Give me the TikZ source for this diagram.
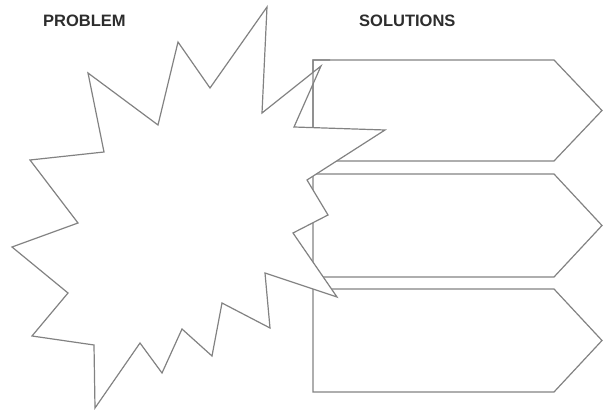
\documentclass[tikz,border=0pt]{standalone}
\usepackage{fontspec}
\setmainfont{Liberation Sans}
\definecolor{linegray}{RGB}{130,130,130}
\definecolor{textgray}{RGB}{45,45,45}
\tikzset{
  outline/.style={draw=linegray, line width=1.2pt, line join=miter},
  title/.style={text=textgray, font=\fontsize{16.5}{19}\selectfont\bfseries, inner sep=0pt, anchor=west},
}
\begin{document}
\begin{tikzpicture}[x=1pt,y=-1pt]
\useasboundingbox (0,0) rectangle (603,411);
% solution arrows
\def\arrowA{(313,60) -- (554,60) -- (602,110.5) -- (554,161) -- (313,161) -- cycle}
\draw[outline] \arrowA;
\draw[outline] (313,174) -- (554,174) -- (602,225.5) -- (554,277) -- (313,277) -- cycle;
\draw[outline] (313,289) -- (554,289) -- (602,340.5) -- (554,392) -- (313,392) -- cycle;
% starburst
\draw[outline, fill=white] (267,7) -- (262,113) -- (321,66) -- (294,127) -- (385,130)
  -- (307,180) -- (328,215) -- (293,233) -- (337,297) -- (265,273) -- (270,328)
  -- (222,303) -- (212,356) -- (182,329) -- (162,373) -- (140,343) -- (95,408)
  -- (94,345) -- (32,336) -- (68,293) -- (12,247) -- (78,223) -- (30,160)
  -- (104,152) -- (88,73) -- (158,125) -- (178,42) -- (210,88) -- cycle;
% arrow edge visible through the narrow spike
\begin{scope}
  \clip (305,50) rectangle (330,127);
  \draw[outline] \arrowA;
\end{scope}
% titles
\node[title] (problem) at (43,21) {PROBLEM};
\node[title] (solutions) at (359,21) {SOLUTIONS};
\end{tikzpicture}
\end{document}
